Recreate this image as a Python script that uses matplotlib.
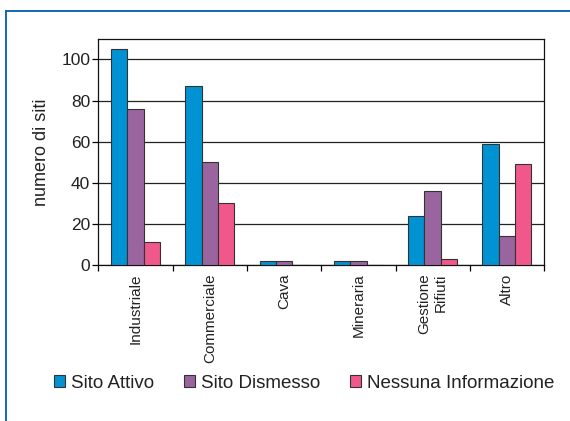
import numpy as np
import matplotlib.pyplot as plt
from matplotlib.patches import Rectangle

plt.rcParams['font.family'] = ['Liberation Sans', 'DejaVu Sans']

categories = ["Industriale", "Commerciale", "Cava", "Mineraria", "Gestione\nRifiuti", "Altro"]
attivo = [105, 87, 2, 2, 24, 59]
dismesso = [76, 50, 2, 2, 36, 14]
nessuna = [11, 30, 0, 0, 3, 49]
series_names = ["Sito Attivo", "Sito Dismesso", "Nessuna Informazione"]
colors = ["#0092d2", "#9a649e", "#f0588c"]

fig = plt.figure(figsize=(5.7, 4.21), dpi=100)
ax = fig.add_axes([0.1728, 0.3705, 0.7816, 0.537])

# blue frame around the whole chart (runs off right and bottom)
fig.patches.append(Rectangle((5.5 / 570, -0.1), 1.2, 1.1 - 10.5 / 421,
                             transform=fig.transFigure, fill=False,
                             edgecolor="#1565b8", linewidth=1.4))

x = np.arange(len(categories))
w = 0.22
for i, (vals, name, c) in enumerate(zip([attivo, dismesso, nessuna], series_names, colors)):
    ax.bar(x + (i - 1) * w, vals, width=w, color=c, edgecolor="#333333",
           linewidth=0.8, label=name, zorder=3)

ax.set_xlim(-0.5, len(categories) - 0.5)
ax.set_ylim(0, 110)
ax.set_yticks([0, 20, 40, 60, 80, 100])
ax.yaxis.grid(True, color="#222222", linewidth=0.9, zorder=0)
ax.tick_params(axis="y", labelsize=12.5, length=4, width=0.9, direction="out",
               pad=2, labelcolor="#222222")

ax.set_xticks(x)
ax.set_xticklabels(categories, rotation=90, fontsize=11, multialignment="right",
                   color="#222222")
ax.tick_params(axis="x", which="major", length=0, pad=6)
ax.set_xticks(np.arange(-0.5, len(categories)), minor=True)
ax.tick_params(axis="x", which="minor", length=4, width=0.9, direction="out")

for s in ax.spines.values():
    s.set_linewidth(0.9)
    s.set_color("#111111")

ax.set_ylabel("numero di siti", fontsize=13, labelpad=8, color="#222222")

fig.legend(loc="center", bbox_to_anchor=(304 / 570, 1 - 383 / 421), ncol=3,
           frameon=False, fontsize=13.5, handlelength=0.6, handleheight=0.6,
           handletextpad=0.3, columnspacing=1.6, labelcolor="#222222")

fig.savefig("out.png", dpi=100)
